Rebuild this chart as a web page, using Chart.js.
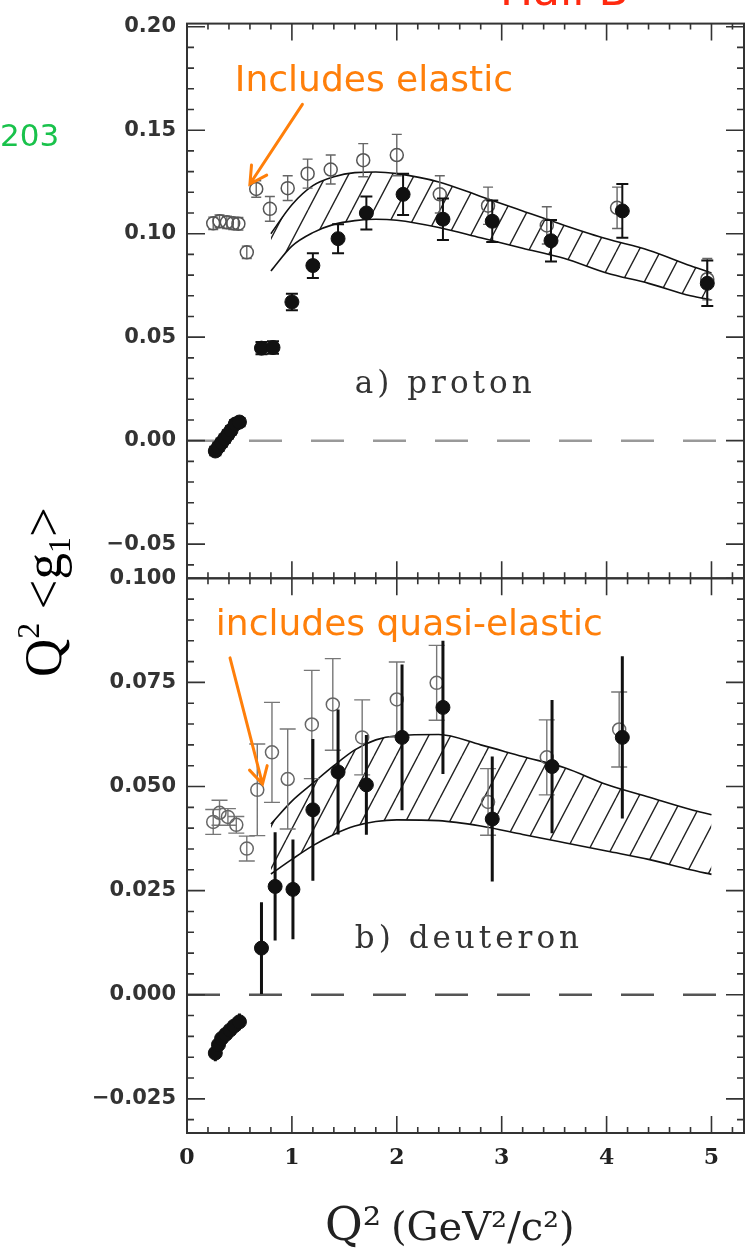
<!DOCTYPE html>
<html lang="en">
<head>
  <meta charset="UTF-8" />
  <title>Q2 g1 proton / deuteron</title>
  <script src="https://cdn.jsdelivr.net/npm/chart.js"></script>
  <style>
    html, body { margin: 0; padding: 0; background: #fff; }
  </style>
</head>
<body>
  <canvas id="g1Chart" width="752" height="1251"></canvas>

  <script>
    // proton, open circles (includes elastic)
    const pOpenQ2  = [0.25, 0.31, 0.38, 0.44, 0.49, 0.57, 0.66, 0.79, 0.96, 1.15, 1.37, 1.68, 2.00, 2.41, 2.87, 3.43, 4.10, 4.96];
    const pOpenVal = [0.105, 0.106, 0.1055, 0.105, 0.1048, 0.091, 0.1216, 0.112, 0.122, 0.129, 0.131, 0.1355, 0.138, 0.119, 0.1135, 0.104, 0.1125, 0.078];
    const pOpenErr = [0.003, 0.003, 0.003, 0.003, 0.003, 0.003, 0.004, 0.006, 0.006, 0.007, 0.007, 0.008, 0.010, 0.009, 0.009, 0.009, 0.010, 0.010];

    // proton, filled circles
    const pFullQ2  = [0.27, 0.30, 0.33, 0.36, 0.39, 0.42, 0.46, 0.50, 0.71, 0.82, 1.00, 1.20, 1.44, 1.71, 2.06, 2.44, 2.91, 3.47, 4.15, 4.96];
    const pFullVal = [-0.005, -0.003, -0.001, 0.001, 0.003, 0.005, 0.008, 0.009, 0.0447, 0.045, 0.067, 0.0846, 0.0976, 0.110, 0.119, 0.107, 0.106, 0.0966, 0.111, 0.076];
    const pFullErr = [0.002, 0.002, 0.002, 0.002, 0.002, 0.002, 0.002, 0.002, 0.003, 0.003, 0.004, 0.006, 0.007, 0.008, 0.010, 0.010, 0.010, 0.010, 0.013, 0.011];

    // deuteron, open circles (includes quasi-elastic)
    const dOpenQ2  = [0.25, 0.31, 0.39, 0.47, 0.57, 0.67, 0.81, 0.96, 1.19, 1.39, 1.67, 2.00, 2.38, 2.87, 3.43, 4.12];
    const dOpenVal = [0.0415, 0.0437, 0.0427, 0.0408, 0.0351, 0.0492, 0.0582, 0.0518, 0.0649, 0.0697, 0.0618, 0.0709, 0.0749, 0.0463, 0.057, 0.0637];
    const dOpenErr = [0.003, 0.003, 0.002, 0.002, 0.003, 0.011, 0.012, 0.012, 0.013, 0.011, 0.009, 0.009, 0.009, 0.008, 0.009, 0.009];

    // deuteron, filled circles
    const dFullQ2  = [0.27, 0.30, 0.33, 0.37, 0.41, 0.45, 0.50, 0.71, 0.84, 1.01, 1.20, 1.44, 1.71, 2.05, 2.44, 2.91, 3.48, 4.15];
    const dFullVal = [-0.014, -0.012, -0.0105, -0.0095, -0.0085, -0.0075, -0.0065, 0.0112, 0.026, 0.0253, 0.0444, 0.0535, 0.0504, 0.0618, 0.069, 0.0422, 0.0548, 0.0618];
    const dFullErr = [0.002, 0.002, 0.002, 0.002, 0.002, 0.002, 0.002, 0.011, 0.013, 0.012, 0.017, 0.015, 0.012, 0.0175, 0.016, 0.015, 0.016, 0.0195];

    // hatched model bands
    const bandQ2 = [0.8, 1.0, 1.2, 1.4, 1.6, 1.8, 2.0, 2.4, 2.8, 3.2, 3.6, 4.0, 4.4, 4.8, 5.0];
    const pUpper = [0.100, 0.114, 0.1232, 0.1275, 0.1295, 0.1298, 0.129, 0.125, 0.118, 0.111, 0.104, 0.0975, 0.092, 0.0845, 0.081];
    const pLower = [0.082, 0.094, 0.1005, 0.1045, 0.1063, 0.107, 0.1065, 0.103, 0.098, 0.093, 0.088, 0.081, 0.076, 0.070, 0.068];
    const dUpper = [0.041, 0.0465, 0.0508, 0.055, 0.0588, 0.0612, 0.0622, 0.0625, 0.060, 0.0572, 0.0545, 0.0505, 0.0475, 0.0445, 0.0432];
    const dLower = [0.029, 0.0325, 0.0358, 0.0385, 0.0405, 0.0416, 0.042, 0.0418, 0.0405, 0.0385, 0.0365, 0.0345, 0.0325, 0.030, 0.0289];

    // axes
    const xMin = 0, xMax = 5.31;
    const xTicks = [0, 1, 2, 3, 4, 5];
    const pTicks = [-0.05, 0, 0.05, 0.10, 0.15, 0.20];
    const dTicks = [-0.025, 0, 0.025, 0.050, 0.075, 0.100];

    const pts = (xs, ys) => xs.map((x, i) => ({ x, y: ys[i] }));
    const fmt = d => v => (v < 0 ? '\u2212' : '') + Math.abs(v).toFixed(d);

    function hatch() {
      const w = 22, h = 42;
      const c = document.createElement('canvas');
      c.width = w; c.height = h;
      const g = c.getContext('2d');
      g.strokeStyle = '#222';
      g.lineWidth = 1.4;
      g.beginPath();
      for (const dx of [-w, 0, w]) { g.moveTo(dx, h); g.lineTo(dx + w, 0); }
      g.stroke();
      return g.createPattern(c, 'repeat');
    }
    const hatchFill = hatch();

    const openStyle = (stroke, bar, cap) => ({ r: 6.5, fill: 'rgba(0,0,0,0)', stroke, bw: 1.5, barColor: bar, barWidth: 1.4, cap });
    const fullStyle = (bw, cap) => ({ r: 7, fill: '#111', stroke: '#111', bw: 1, barColor: '#111', barWidth: bw, cap });

    const markers = (xs, ys, errs, axis, st) => ({
      type: 'scatter', data: pts(xs, ys), yAxisID: axis, errors: errs, errStyle: st, order: 0,
      pointStyle: 'circle', pointRadius: st.r, pointBackgroundColor: st.fill,
      pointBorderColor: st.stroke, pointBorderWidth: st.bw, showLine: false
    });
    const curve = (ys, axis, fill) => ({
      type: 'line', data: pts(bandQ2, ys), yAxisID: axis, borderColor: '#111', borderWidth: 1.6,
      pointRadius: 0, cubicInterpolationMode: 'monotone', fill: fill ? '-1' : false,
      backgroundColor: hatchFill, order: 2
    });
    const zeroLine = (axis, color) => ({
      type: 'line', data: [{ x: xMin, y: 0 }, { x: xMax, y: 0 }], yAxisID: axis,
      borderColor: color, borderWidth: 2.5, borderDash: [33, 29], pointRadius: 0, fill: false, order: 3
    });

    // error bars, drawn under each marker set
    const errorBars = {
      id: 'errorBars',
      beforeDatasetDraw(chart, args) {
        const ds = chart.data.datasets[args.index];
        if (!ds.errors) return;
        const ys = chart.scales[ds.yAxisID], st = ds.errStyle, ctx = chart.ctx;
        ctx.save();
        ctx.strokeStyle = st.barColor;
        ctx.lineWidth = st.barWidth;
        ctx.beginPath();
        args.meta.data.forEach((pt, i) => {
          const v = ds.data[i].y, e = ds.errors[i];
          const y1 = ys.getPixelForValue(v + e), y2 = ys.getPixelForValue(v - e);
          ctx.moveTo(pt.x, y1); ctx.lineTo(pt.x, y2);
          if (st.cap) {
            ctx.moveTo(pt.x - st.cap, y1); ctx.lineTo(pt.x + st.cap, y1);
            ctx.moveTo(pt.x - st.cap, y2); ctx.lineTo(pt.x + st.cap, y2);
          }
        });
        ctx.stroke();
        ctx.restore();
      }
    };

    // frame with inward ticks on all sides of both panels
    const frame = {
      id: 'frame',
      afterDraw(chart) {
        const { ctx } = chart, sx = chart.scales.x;
        const panels = [[chart.scales.yP, 0.01, 5], [chart.scales.yD, 0.005, 5]];
        const L = sx.left, R = sx.right;
        ctx.save();
        ctx.strokeStyle = '#333';
        ctx.lineWidth = 2;
        panels.forEach(([s]) => ctx.strokeRect(L, s.top, R - L, s.bottom - s.top));
        ctx.lineWidth = 1.6;
        ctx.beginPath();
        panels.forEach(([s, step, every]) => {
          for (let i = Math.ceil(s.min / step - 1e-6); i * step <= s.max + 1e-9; i++) {
            const py = s.getPixelForValue(i * step), len = i % every === 0 ? 18 : 7;
            ctx.moveTo(L, py); ctx.lineTo(L + len, py);
            ctx.moveTo(R, py); ctx.lineTo(R - len, py);
          }
          for (let i = 0; i * 0.2 <= xMax + 1e-9; i++) {
            const px = sx.getPixelForValue(i * 0.2), len = i % 5 === 0 ? 17 : 6;
            ctx.moveTo(px, s.top); ctx.lineTo(px, s.top + len);
            ctx.moveTo(px, s.bottom); ctx.lineTo(px, s.bottom - len);
          }
        });
        ctx.stroke();
        ctx.restore();
      }
    };

    function arrow(ctx, x0, y0, x1, y1) {
      const a = Math.atan2(y0 - y1, x0 - x1), len = 19, sp = 0.5;
      ctx.beginPath();
      ctx.moveTo(x0, y0); ctx.lineTo(x1, y1);
      ctx.moveTo(x1 + len * Math.cos(a - sp), y1 + len * Math.sin(a - sp));
      ctx.lineTo(x1, y1);
      ctx.lineTo(x1 + len * Math.cos(a + sp), y1 + len * Math.sin(a + sp));
      ctx.stroke();
    }

    const texts = {
      id: 'texts',
      afterDraw(chart) {
        const { ctx } = chart, sx = chart.scales.x, yP = chart.scales.yP, yD = chart.scales.yD;
        const X = v => sx.getPixelForValue(v);
        ctx.save();
        ctx.textAlign = 'left';
        ctx.textBaseline = 'alphabetic';

        ctx.fillStyle = '#19c24b';
        ctx.font = '31px "DejaVu Sans"';
        ctx.fillText('203', 0, 146);
        ctx.fillStyle = '#ff2a10';
        ctx.font = '44px "DejaVu Sans"';
        ctx.fillText('Hall B', 500, 5);

        // orange notes
        ctx.fillStyle = ctx.strokeStyle = '#ff7f0a';
        ctx.lineWidth = 3;
        ctx.lineCap = 'round';
        ctx.font = '36px "Comic Sans MS", "DejaVu Sans"';
        ctx.fillText('Includes elastic', X(0.456), yP.getPixelForValue(0.1687));
        arrow(ctx, X(1.10), yP.getPixelForValue(0.1625), X(0.60), yP.getPixelForValue(0.124));
        ctx.fillText('includes quasi-elastic', X(0.275), yD.getPixelForValue(0.0864));
        arrow(ctx, X(0.41), yD.getPixelForValue(0.0809), X(0.72), yD.getPixelForValue(0.0506));

        // panel labels
        ctx.fillStyle = '#333';
        ctx.font = '31px "DejaVu Serif"';
        ctx.letterSpacing = '4px';
        ctx.fillText('a) proton', X(1.6), yP.getPixelForValue(0.023));
        ctx.fillText('b) deuteron', X(1.6), yD.getPixelForValue(0.0112));
        ctx.letterSpacing = '0px';

        // x title
        ctx.fillStyle = '#222';
        ctx.font = '46px "DejaVu Serif"';
        ctx.fillText('Q\u00b2', 325, 1240);
        ctx.font = '40px "DejaVu Serif"';
        ctx.fillText('(GeV\u00b2/c\u00b2)', 391, 1240);

        // y title, rotated
        const big = '53px "Liberation Serif"', small = '32px "Liberation Serif"';
        const parts = [['Q', big, 0], ['2', small, -22], [' ', big, 0], ['<', big, 0], ['g', big, 0], ['1', small, 9], ['>', big, 0]];
        let total = 0;
        parts.forEach(p => { ctx.font = p[1]; total += ctx.measureText(p[0]).width; });
        ctx.translate(61, 592);
        ctx.rotate(-Math.PI / 2);
        ctx.fillStyle = '#000';
        let u = -total / 2;
        parts.forEach(p => { ctx.font = p[1]; ctx.fillText(p[0], u, p[2]); u += ctx.measureText(p[0]).width; });
        ctx.restore();
      }
    };

    const yBase = {
      type: 'linear', position: 'left', stack: 'panels', stackWeight: 1, offset: false,
      grid: { display: false, drawTicks: false }, border: { display: false },
      afterFit: s => { s.width = 187; }
    };
    const tickFont = { family: 'DejaVu Sans', size: 21, weight: 'bold' };

    new Chart(document.getElementById('g1Chart'), {
      type: 'scatter',
      data: {
        datasets: [
          markers(pFullQ2, pFullVal, pFullErr, 'yP', fullStyle(2, 6)),
          markers(pOpenQ2, pOpenVal, pOpenErr, 'yP', openStyle('#555', '#666', 5)),
          markers(dFullQ2, dFullVal, dFullErr, 'yD', fullStyle(3, 0)),
          markers(dOpenQ2, dOpenVal, dOpenErr, 'yD', openStyle('#666', '#777', 8)),
          curve(pUpper, 'yP', false),
          curve(pLower, 'yP', true),
          curve(dUpper, 'yD', false),
          curve(dLower, 'yD', true),
          zeroLine('yP', '#999'),
          zeroLine('yD', '#555')
        ]
      },
      options: {
        responsive: false,
        animation: false,
        layout: { padding: { top: 16, right: 6, left: 0, bottom: 0 } },
        plugins: { legend: { display: false }, tooltip: { enabled: false } },
        scales: {
          x: {
            type: 'linear', position: 'bottom', min: xMin, max: xMax,
            grid: { display: false, drawTicks: false }, border: { display: false },
            afterBuildTicks: s => { s.ticks = xTicks.map(v => ({ value: v })); },
            afterFit: s => { s.height = 118; },
            ticks: { autoSkip: false, maxRotation: 0, padding: 12, color: '#222',
                     font: { family: 'DejaVu Serif', size: 22, weight: 'bold' } }
          },
          // the stack is laid out bottom-up: deuteron first, proton on top
          yD: {
            ...yBase, min: -0.0332, max: 0.100,
            afterBuildTicks: s => { s.ticks = dTicks.map(v => ({ value: v })); },
            ticks: { autoSkip: false, padding: 11, color: '#333', font: tickFont, callback: fmt(3) }
          },
          yP: {
            ...yBase, min: -0.0665, max: 0.2015,
            afterBuildTicks: s => { s.ticks = pTicks.map(v => ({ value: v })); },
            ticks: { autoSkip: false, padding: 11, color: '#333', font: tickFont, callback: fmt(2) }
          }
        }
      },
      plugins: [errorBars, frame, texts]
    });
  </script>
</body>
</html>
